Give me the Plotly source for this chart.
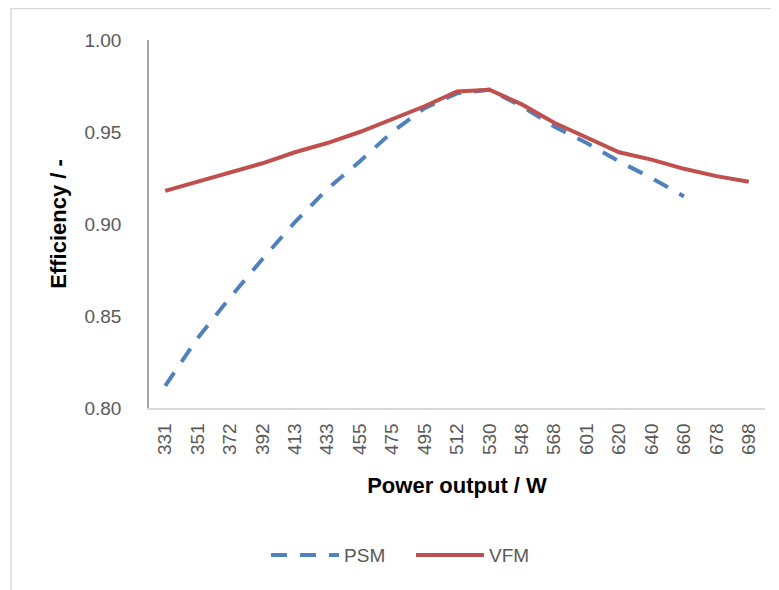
import plotly.graph_objects as go

power_output = ["331", "351", "372", "392", "413", "433", "455", "475", "495", "512",
                "530", "548", "568", "601", "620", "640", "660", "678", "698"]
psm_eff = [0.812, 0.838, 0.860, 0.881, 0.901, 0.919, 0.934, 0.950, 0.963, 0.971,
           0.973, 0.964, 0.953, 0.944, 0.934, 0.925, 0.915, None, None]
vfm_eff = [0.918, 0.923, 0.928, 0.933, 0.939, 0.944, 0.950, 0.957, 0.964, 0.972,
           0.973, 0.965, 0.955, 0.947, 0.939, 0.935, 0.930, 0.926, 0.923]

FONT = "Liberation Sans"
GREY = "#595959"

fig = go.Figure()
fig.add_trace(go.Scatter(x=power_output, y=psm_eff, name="PSM", mode="lines",
                         line=dict(color="#4F81BD", width=4, dash="16px,13px")))
fig.add_trace(go.Scatter(x=power_output, y=vfm_eff, name="VFM", mode="lines",
                         line=dict(color="#C0504D", width=4)))

L, T, W, H = 141, 32, 616, 368

fig.update_layout(
    width=779, height=590,
    margin=dict(l=L, r=779 - L - W, t=T, b=590 - T - H),
    paper_bgcolor="white", plot_bgcolor="white",
    font=dict(family=FONT, color=GREY, size=16),
    showlegend=True,
    legend=dict(orientation="h", x=0.19, xanchor="left", y=-0.40, yanchor="middle",
                font=dict(size=19, color=GREY), itemwidth=68,
                entrywidth=62, entrywidthmode="pixels"),
    xaxis=dict(type="category", range=[-0.5, 18.5], tickangle=-90, automargin=False,
               showline=True, linecolor="#D9D9D9", linewidth=1.5, ticks="",
               showgrid=False, tickfont=dict(size=19, color=GREY), ticklabelstandoff=6,
               title=dict(text="<b>Power output / W</b>", font=dict(size=22, color="black"),
                          standoff=24)),
    yaxis=dict(range=[0.8, 1.0], tickvals=[0.80, 0.85, 0.90, 0.95, 1.00], automargin=False,
               tickformat=".2f", showline=True, linecolor="#A6A6A6", linewidth=1.5,
               ticks="", showgrid=False, zeroline=False, tickfont=dict(size=19, color=GREY),
               ticklabelstandoff=22,
               title=dict(text="<b>Efficiency / -</b>", font=dict(size=22, color="black"),
                          standoff=12)),
    shapes=[dict(type="rect", xref="paper", yref="paper",
                 x0=(10 - 148) / W, x1=(800 - 148) / W,
                 y0=(408 - 620) / H, y1=(408 - 8.5) / H,
                 line=dict(color="#D9D9D9", width=1.5), fillcolor="rgba(0,0,0,0)", layer="below")],
)

fig.write_html("out.html")
